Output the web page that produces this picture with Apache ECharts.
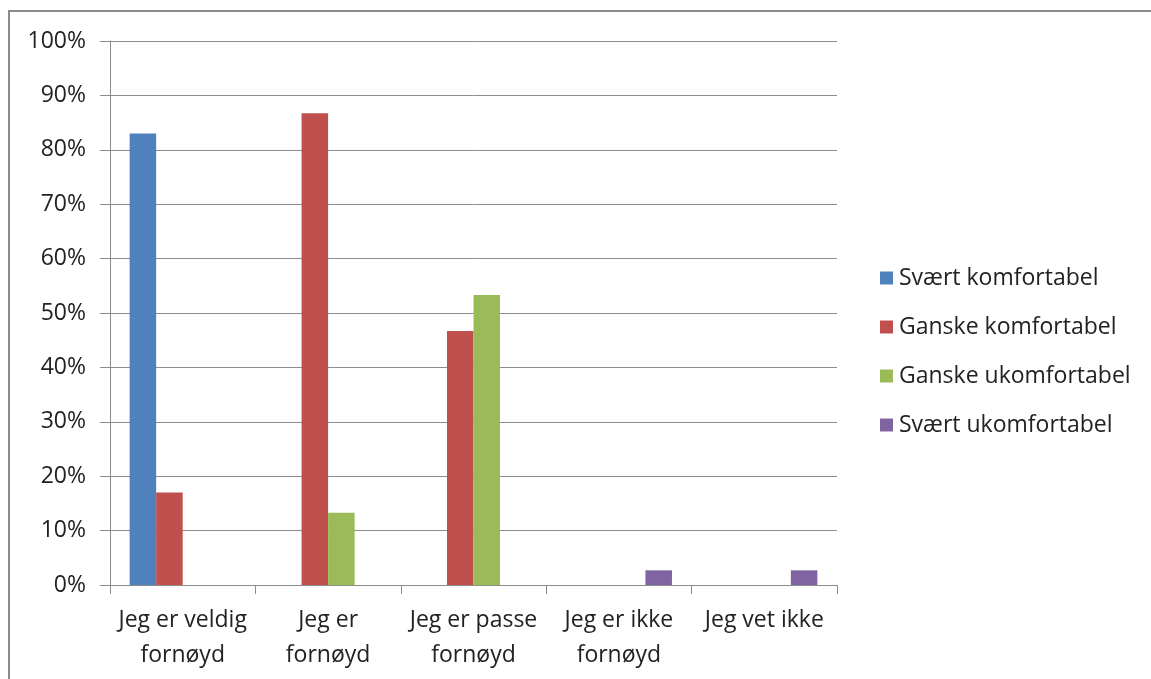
<!DOCTYPE html>
<html>
<head>
<meta charset="utf-8">
<script src="https://cdn.jsdelivr.net/npm/echarts@6/dist/echarts.min.js"></script>
<style>
  html, body { margin: 0; padding: 0; background: #fff; }
  #frame { position: absolute; left: 8px; top: 10px; width: 1160px; height: 700px; border: 2px solid #8c8c8c; box-sizing: border-box; }
  #chart { position: absolute; left: 0; top: 0; width: 1151px; height: 679px; }
</style>
</head>
<body>
<div id="frame"></div>
<div id="chart"></div>
<script>
// Survey answers: satisfaction (categories) by comfort level (series), in percent
const categories = ['Jeg er veldig\nfornøyd', 'Jeg er\nfornøyd', 'Jeg er passe\nfornøyd', 'Jeg er ikke\nfornøyd', 'Jeg vet ikke'];
const seriesNames = ['Svært komfortabel', 'Ganske komfortabel', 'Ganske ukomfortabel', 'Svært ukomfortabel'];
const sveartKomfortabel   = [83.0, 0, 0, 0, 0];
const ganskeKomfortabel   = [17.0, 86.7, 46.7, 0, 0];
const ganskeUkomfortabel  = [0, 13.3, 53.3, 0, 0];
const sveartUkomfortabel  = [0, 0, 0, 2.7, 2.7];
const yTicks = [0, 10, 20, 30, 40, 50, 60, 70, 80, 90, 100];

const colors = ['#4f81bd', '#c0504d', '#9bbb59', '#8064a2'];
const values = [sveartKomfortabel, ganskeKomfortabel, ganskeUkomfortabel, sveartUkomfortabel];
const font = '"Open Sans", sans-serif';

const chart = echarts.init(document.getElementById('chart'), null, { renderer: 'canvas' });
chart.setOption({
  animation: false,
  color: colors,
  textStyle: { fontFamily: font },
  grid: { left: 110, top: 41, right: 314, bottom: 94, containLabel: false },
  legend: {
    orient: 'vertical',
    left: 875,
    top: 261,
    itemWidth: 13,
    itemHeight: 13,
    itemGap: 25,
    icon: 'rect',
    textStyle: { fontFamily: font, fontSize: 23, color: '#222', lineHeight: 24, padding: [0, 0, 0, 1] },
    data: seriesNames
  },
  xAxis: {
    type: 'category',
    data: categories,
    axisLine: { lineStyle: { color: '#8c8c8c', width: 1 } },
    axisTick: { show: true, length: 9, lineStyle: { color: '#8c8c8c' } },
    axisLabel: { fontFamily: font, fontSize: 23, color: '#222', lineHeight: 35, margin: 18, interval: 0 }
  },
  yAxis: {
    type: 'value',
    min: 0,
    max: 100,
    interval: 10,
    axisLine: { show: true, lineStyle: { color: '#8c8c8c', width: 1 } },
    axisTick: { show: true, length: 10, inside: false, lineStyle: { color: '#8c8c8c' } },
    splitLine: { show: true, lineStyle: { color: '#8c8c8c', width: 1 } },
    axisLabel: {
      fontFamily: font, fontSize: 23, color: '#222', margin: 24,
      formatter: v => yTicks.includes(v) ? v + '%' : ''
    }
  },
  series: seriesNames.map((name, i) => ({
    name: name,
    type: 'bar',
    data: values[i],
    barGap: '0%',
    barCategoryGap: '27%',
    itemStyle: { color: colors[i] }
  }))
});
</script>
</body>
</html>
